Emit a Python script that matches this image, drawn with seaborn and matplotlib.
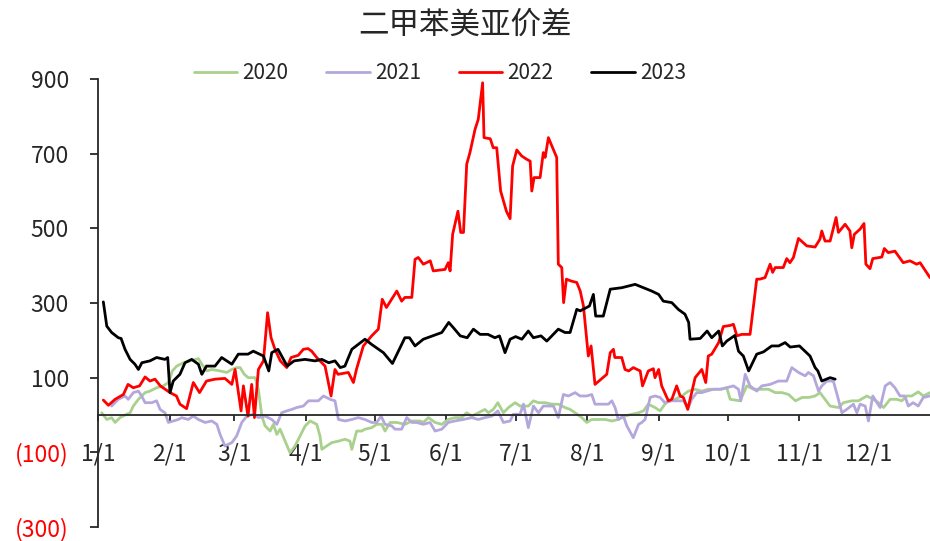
import numpy as np
import pandas as pd
import matplotlib
matplotlib.use("Agg")
import matplotlib.pyplot as plt
import seaborn as sns

# day of year (1/1 = 0) and spread values
d2020 = [1.6, 3.8, 5.9, 7.4, 9.5, 12.4, 13.9, 15.3, 17.5, 20.4, 22.5, 25.4, 28.3, 30.5, 32.2, 34.1, 37, 39.9,
         43.5, 45, 47.1, 49.3, 52.9, 55.8, 58, 60.1, 61.6, 63.4, 65.1, 68.1, 69.5, 71, 72.4, 74.6, 76, 77.5,
         78.9, 81.1, 83.2, 85.4, 87.6, 89.7, 91.9, 94.8, 96.2, 97, 99.1, 101.3, 104.2, 107.1, 109.2, 110,
         112.1, 114.3, 115.7, 118.6, 120.8, 123, 124.4, 126.6, 129.5, 133.1, 136, 139.6, 141, 143.2, 146.1,
         149, 151.8, 154.7, 157.6, 159.8, 162, 164.8, 167.7, 169.2, 171.3, 173.3, 175.7, 177.9, 180.8,
         182.9, 186.5, 188.7, 190.9, 193.8, 196.7, 199.5, 202.4, 204.6, 206.8, 209.7, 211.8, 214, 219.8,
         222.7, 225.5, 228.4, 231.3, 234.3, 236.4, 238.5, 241.4, 243.6, 245.7, 247.2, 250.1, 253, 255.9,
         258.8, 261.7, 264.5, 270.3, 272.5, 274, 278.3, 281.2, 284.1, 290.6, 293.5, 296.4, 299.3, 302.3,
         305.2, 308.1, 310.8, 312.9, 315.1, 317.3, 320.9, 323.1, 326.7, 329.6, 333.2, 336.1, 338.3, 340.5,
         343.3, 346.2, 348.4, 350.5, 352.7, 355.5, 357.7, 360.6]
v2020 = [6, -12, -7, -20, -7, 2, 6, 24, 42, 60, 64, 73, 78, 87, 118, 131, 140, 145,
         151, 136, 118, 122, 118, 114, 122, 127, 127, 109, 100, 100, 69, -3, -29, -43, -25, -52,
         -38, -70, -101, -83, -56, -30, -16, -25, -56, -92, -83, -74, -70, -65, -70, -92,
         -43, -43, -38, -34, -25, -25, -43, -20, -20, -25, -16, -16, -20, -7, -20,
         -25, -12, -7, -7, 6, -3, 6, 15, 6, 15, 33, 6, 20, 33,
         24, 24, 38, 33, 33, 29, 29, 20, 15, 6, -7, -20, -12, -12,
         -16, -12, -3, 2, 6, 11, 29, 20, 11, 29, 38, 42, 51, 64,
         69, 64, 69, 69, 73, 42, 38, 78, 69, 69, 60, 60, 55, 38,
         47, 47, 51, 60, 42, 24, 20, 33, 38, 38, 51, 42, 33, 20,
         42, 42, 38, 51, 51, 62, 51, 60]

d2021 = [5.9, 8.8, 11.7, 13.1, 15.3, 17.5, 18.9, 20.4, 23.3, 25.4, 26.9, 29, 30.5, 32.6, 34.8, 36.3, 39.1,
         41.3, 43.5, 46.4, 49.3, 51.5, 52.9, 55, 58, 60.1, 62.3, 64.5, 67.3, 69.5, 72.4, 75.3, 77.5, 79.6,
         81.8, 84, 86.1, 89, 91.2, 92.6, 95.5, 97.7, 100.6, 102.7, 104.2, 107.1, 110, 112.8, 115.7, 118.6,
         120.8, 122.7, 124.4, 127.3, 128.7, 131.6, 133.8, 136, 138.1, 141, 143.9, 146.1, 149, 151.8, 154.7,
         158.3, 162, 164.8, 167.7, 170.7, 173.3, 175.7, 178.6, 180, 182.9, 184.4, 186.5, 188.7, 190.9, 193,
         197.4, 199.5, 201.7, 203.9, 206.8, 208.9, 211.8, 214, 215.4, 221.2, 222.7, 224.1, 225.5, 227.7,
         229.2, 232, 234.3, 235.7, 237.1, 237.8, 239.3, 241.4, 243.6, 245.7, 248.7, 253.7, 255.9, 257.3,
         259.5, 261.7, 263.8, 266.7, 269.6, 272.5, 275.4, 277.6, 278.6, 280.5, 282.6, 285.5, 287.7, 291.3,
         294.9, 298.5, 300.7, 303.6, 306.5, 307.9, 310.1, 312.3, 313.7, 315.9, 318.7, 320.5, 322.4, 324.5,
         327.4, 328.9, 330.3, 332.5, 333.9, 335.8, 337.6, 339, 341.2, 343.3, 345.4, 347.6, 349.7, 351.2,
         353.3, 355.5, 357.7, 360.6]
v2021 = [24, 42, 51, 42, 60, 64, 51, 33, 33, 38, 15, 6, -20, -16, -12, -7, -12,
         -3, -12, -20, -16, -25, -52, -83, -74, -56, -20, -3, 2, -7, -3, -12, -25, 6,
         11, 15, 20, 24, 38, 38, 38, 51, 42, 38, -12, -16, -12, -7, -12, -20,
         -20, -3, -25, -29, -38, -38, -7, -20, -20, -25, -20, -43, -38, -20, -16,
         -12, -7, -12, -7, -3, 11, -20, -16, 2, 2, 29, -34, 24, 6, 24,
         24, -7, 55, 51, 60, 51, 51, 55, 29, 29, 38, 20, -12, -3,
         -29, -61, -25, -20, -12, 6, 47, 51, 47, 33, 38, 38, 20, 42,
         60, 60, 64, 69, 69, 73, 78, 69, 38, 109, 78, 64, 78, 82,
         91, 91, 127, 114, 105, 114, 105, 64, 78, 91, 91, 51, 6, 15,
         29, 6, 29, 24, -16, 51, 33, 20, 78, 87, 73, 51, 51, 24,
         33, 24, 47, 51]

d2022 = [2.3, 4.5, 7.4, 11, 13, 15.3, 18, 20.4, 22.5, 24.7, 27, 31.2, 34, 35.5, 38.4, 41.3, 44, 47, 50.7,
         55, 58, 59.4, 62, 63, 65, 66.6, 67.8, 69.5, 71.7, 73.5, 75, 76.7, 79, 81.8, 83.7, 86.8, 89, 91,
         92.6, 94.8, 98.4, 101, 102.7, 104, 108.5, 110.7, 112, 115, 118.6, 121.5, 123.2, 125, 129.5, 131.6,
         133, 136, 137.4, 138.8, 141, 144, 145.3, 150.4, 151.8, 152.6, 153.7, 156, 157.2, 158.4, 159.8,
         161.2, 163.4, 164.8, 166.7, 167.3, 170, 171.3, 172.8, 174.5, 177, 178.6, 179.7, 181.5, 183.6,
         185.8, 187.3, 188, 189, 191.6, 193, 193.8, 195.2, 198.8, 199.5, 201, 201.8, 203, 205, 207.5, 209,
         210.4, 212.5, 213.7, 215.4, 220.5, 222, 223.4, 224, 227, 228.4, 230, 232, 235, 236, 238.5, 240.7,
         241.4, 243, 244.3, 247.2, 248.7, 250.8, 252.3, 253.7, 255.6, 257.3, 258.8, 261.7, 263.4, 264.5,
         266, 269, 271, 274, 275.4, 276.9, 279, 282.6, 285.5, 286.9, 289.1, 291.3, 292.4, 293.5, 297,
         298.5, 299.9, 301.4, 303.6, 307.2, 310.8, 312.9, 313.7, 315.1, 317.3, 319.9, 320.9, 323.8, 325.9,
         326.7, 327.8, 330.3, 332, 332.8, 334.6, 335.8, 339.7, 340.8, 342.5, 345.4, 349, 351.9, 354.8,
         356.3, 360.6]
v2022 = [40, 26, 42, 55, 82, 73, 78, 102, 91, 96, 78, 60, 51, 29, 17, 87, 60, 91, 96,
         98, 82, 122, 11, 78, -3, 82, -7, 122, 145, 274, 207, 176, 145, 127, 154, 160, 176, 178,
         171, 154, 131, 51, 122, 109, 114, 87, 122, 185, 212, 230, 310, 288, 332, 305,
         315, 315, 417, 422, 404, 413, 386, 390, 408, 386, 484, 546, 489, 489, 672,
         703, 765, 792, 890, 743, 740, 716, 716, 600, 546, 526, 667, 710, 694,
         685, 680, 600, 636, 636, 703, 690, 743, 690, 404, 395, 301, 364, 359, 355, 332,
         292, 158, 185, 82, 109, 167, 176, 154, 154, 122, 118, 127, 118, 78, 118, 124,
         100, 122, 78, 38, 42, 78, 51, 47, 15, 60, 100, 122, 87, 158,
         163, 194, 237, 240, 243, 212, 216, 216, 364, 364, 368, 404, 382, 395, 395,
         419, 408, 422, 473, 453, 450, 471, 493, 466, 466, 529, 489, 511, 493,
         448, 484, 498, 513, 404, 392, 419, 423, 446, 435, 439, 408, 413, 404,
         408, 368]

d2023 = [2.3, 3.8, 5.9, 8.8, 10, 11.7, 13.9, 16, 17.5, 19, 22.5, 25.4, 29, 30.2, 31.2, 32.6, 35.5, 37.7,
         40.6, 43.5, 45, 47, 50.7, 53.6, 58, 60.8, 65, 67.3, 71.7, 74, 75.3, 78, 82, 85, 89.7, 94, 97, 100,
         102.7, 105, 107, 110, 115.7, 118.6, 123.7, 127.6, 131.6, 133, 135, 137.4, 141, 145, 149, 152, 154,
         157, 160, 162.7, 165.6, 169, 172, 174, 176.4, 178.6, 181, 183.7, 186.5, 188.7, 192, 194.5, 196.7,
         199.5, 202.4, 204.6, 207.5, 209, 213, 214.7, 215.7, 219, 222, 227, 232.8, 236.4, 240, 243, 245,
         248.7, 251.5, 254.4, 256, 256.6, 261, 264, 266, 269, 270.6, 272.5, 276, 277.6, 279.7, 282, 285.5,
         288.4, 292, 295, 297.8, 300, 304, 308.6, 310.8, 312, 313.7, 317.3, 319.5]
v2023 = [303, 238, 221, 207, 205, 176, 149, 136, 122, 140, 145, 154, 149, 154, 60, 91, 109, 140,
         149, 136, 109, 131, 131, 154, 136, 163, 163, 171, 158, 118, 167, 176, 131, 145, 149, 145, 149, 140,
         145, 127, 131, 176, 203, 189, 167, 138, 189, 207, 207, 185, 203, 212, 221, 248, 234,
         212, 207, 230, 216, 216, 207, 212, 167, 203, 210, 203, 225, 207, 212, 198, 212,
         230, 221, 221, 283, 279, 292, 323, 265, 265, 337, 341, 350, 341, 332, 323, 305,
         301, 283, 270, 248, 203, 205, 225, 207, 225, 185, 198, 213, 171, 158, 118, 163,
         169, 185, 185, 194, 182, 185, 158, 127, 118, 91, 100, 96]

years = ["2020", "2021", "2022", "2023"]
colors = ["#A9D18E", "#B4A7DC", "#FF0000", "#000000"]
month_days = [0, 31, 59, 90, 120, 151, 181, 212, 243, 273, 304, 334]
month_labels = ["1/1", "2/1", "3/1", "4/1", "5/1", "6/1", "7/1", "8/1", "9/1", "10/1", "11/1", "12/1"]
y_ticks = [-300, -100, 100, 300, 500, 700, 900]

frames = []
for yr, d, v in zip(years, [d2020, d2021, d2022, d2023], [v2020, v2021, v2022, v2023]):
    frames.append(pd.DataFrame({"day": d, "value": v, "year": yr}))
df = pd.concat(frames, ignore_index=True)

sns.set_style("ticks")
plt.rcParams["font.family"] = ["Noto Sans CJK SC", "DejaVu Sans"]

fig = plt.figure(figsize=(9.3, 5.41), dpi=100)
ax = fig.add_axes([0.1054, 0.0259, 0.8946, 0.828])

sns.lineplot(data=df, x="day", y="value", hue="year", hue_order=years,
             palette=dict(zip(years, colors)), estimator=None, sort=True,
             linewidth=2.0, ax=ax)

ax.set_xlim(0, 360.6)
ax.set_ylim(-300, 900)
ax.set_xlabel("")
ax.set_ylabel("")

# spines: y axis on the left, x axis drawn at zero
ax.spines["top"].set_visible(False)
ax.spines["right"].set_visible(False)
ax.spines["bottom"].set_position(("data", 0))
ax.spines["bottom"].set_linewidth(1.3)
ax.spines["left"].set_linewidth(1.3)

ax.set_xticks(month_days)
ax.set_xticklabels(month_labels)
ax.tick_params(axis="x", direction="out", length=4, width=1.3, pad=16, labelsize=16.5)

ax.set_yticks(y_ticks)
ylabels = [f"({abs(t)})" if t < 0 else str(t) for t in y_ticks]
ax.set_yticklabels(ylabels)
ax.tick_params(axis="y", direction="out", length=6, width=1.3, pad=15, labelsize=16.5)
for lbl, t in zip(ax.get_yticklabels(), y_ticks):
    if t < 0:
        lbl.set_color("#FF0000")

handles, labels = ax.get_legend_handles_labels()
ax.get_legend().remove()
fig.legend(handles, labels, loc="center", bbox_to_anchor=(0.473, 0.865), ncol=4,
           frameon=False, fontsize=15, handlelength=2.1, handletextpad=0.25,
           columnspacing=1.8)

fig.suptitle("二甲苯美亚价差", x=0.5, y=0.954, va="center", fontsize=22)

fig.savefig("out.png", dpi=100)
